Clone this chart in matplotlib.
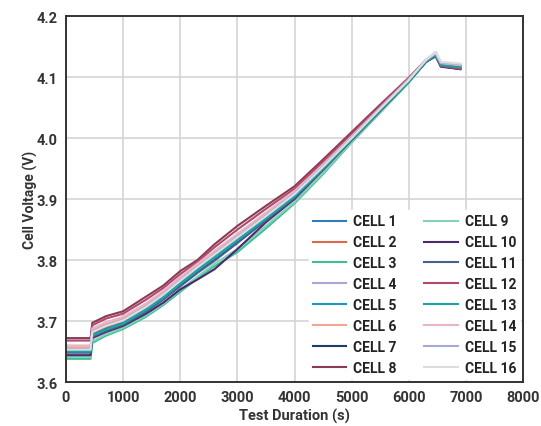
import matplotlib.pyplot as plt

# test time (s)
t = [0, 430, 460, 700, 1000, 1400, 1700, 2000, 2300, 2600, 3000,
     3500, 4000, 4500, 5000, 5500, 6000, 6300, 6470, 6560, 6900]

# cell voltages (V)
cell1 = [3.652, 3.652, 3.678, 3.688, 3.698, 3.720, 3.740, 3.763, 3.785, 3.806, 3.834, 3.870, 3.906, 3.952, 3.999, 4.047, 4.094, 4.126, 4.137, 4.121, 4.117]
cell2 = [3.652, 3.652, 3.679, 3.689, 3.699, 3.721, 3.741, 3.764, 3.786, 3.807, 3.835, 3.871, 3.907, 3.952, 4.000, 4.048, 4.095, 4.127, 4.138, 4.122, 4.118]
cell3 = [3.638, 3.638, 3.664, 3.676, 3.687, 3.707, 3.726, 3.748, 3.770, 3.790, 3.813, 3.852, 3.893, 3.941, 3.993, 4.042, 4.091, 4.125, 4.135, 4.119, 4.115]
cell4 = [3.655, 3.655, 3.684, 3.694, 3.703, 3.725, 3.745, 3.768, 3.790, 3.811, 3.839, 3.874, 3.910, 3.955, 4.001, 4.049, 4.096, 4.128, 4.140, 4.123, 4.120]
cell5 = [3.651, 3.651, 3.677, 3.687, 3.697, 3.719, 3.739, 3.762, 3.784, 3.805, 3.833, 3.869, 3.905, 3.951, 3.998, 4.046, 4.094, 4.126, 4.137, 4.121, 4.117]
cell6 = [3.657, 3.657, 3.685, 3.695, 3.704, 3.726, 3.746, 3.769, 3.791, 3.812, 3.840, 3.875, 3.910, 3.955, 4.001, 4.049, 4.096, 4.127, 4.138, 4.122, 4.119]
cell7 = [3.650, 3.650, 3.675, 3.686, 3.695, 3.716, 3.736, 3.758, 3.780, 3.800, 3.829, 3.866, 3.903, 3.950, 3.998, 4.046, 4.093, 4.125, 4.135, 4.118, 4.114]
cell8 = [3.672, 3.672, 3.697, 3.708, 3.716, 3.740, 3.758, 3.782, 3.800, 3.826, 3.856, 3.889, 3.921, 3.965, 4.010, 4.055, 4.099, 4.128, 4.136, 4.118, 4.113]
cell9 = [3.641, 3.641, 3.667, 3.678, 3.689, 3.709, 3.728, 3.751, 3.773, 3.794, 3.818, 3.856, 3.895, 3.943, 3.994, 4.043, 4.092, 4.125, 4.135, 4.119, 4.115]
cell10 = [3.644, 3.644, 3.672, 3.682, 3.692, 3.712, 3.730, 3.752, 3.768, 3.785, 3.818, 3.862, 3.900, 3.948, 3.997, 4.045, 4.093, 4.125, 4.134, 4.117, 4.113]
cell11 = [3.648, 3.648, 3.674, 3.684, 3.694, 3.715, 3.735, 3.757, 3.779, 3.799, 3.828, 3.865, 3.902, 3.949, 3.997, 4.045, 4.093, 4.125, 4.135, 4.118, 4.114]
cell12 = [3.668, 3.668, 3.693, 3.704, 3.712, 3.735, 3.754, 3.777, 3.797, 3.821, 3.850, 3.884, 3.917, 3.961, 4.007, 4.053, 4.098, 4.128, 4.137, 4.119, 4.114]
cell13 = [3.650, 3.650, 3.676, 3.686, 3.696, 3.718, 3.738, 3.761, 3.783, 3.804, 3.832, 3.868, 3.904, 3.950, 3.998, 4.046, 4.093, 4.126, 4.136, 4.120, 4.116]
cell14 = [3.660, 3.660, 3.688, 3.698, 3.707, 3.729, 3.749, 3.772, 3.794, 3.815, 3.843, 3.878, 3.913, 3.957, 4.003, 4.050, 4.097, 4.128, 4.139, 4.123, 4.120]
cell15 = [3.654, 3.654, 3.683, 3.693, 3.702, 3.724, 3.744, 3.767, 3.789, 3.810, 3.838, 3.873, 3.909, 3.954, 4.001, 4.049, 4.096, 4.128, 4.141, 4.124, 4.121]
cell16 = [3.653, 3.653, 3.682, 3.692, 3.701, 3.723, 3.743, 3.766, 3.788, 3.809, 3.837, 3.872, 3.908, 3.953, 4.000, 4.048, 4.095, 4.128, 4.141, 4.125, 4.122]

cells = [cell1, cell2, cell3, cell4, cell5, cell6, cell7, cell8,
         cell9, cell10, cell11, cell12, cell13, cell14, cell15, cell16]
labels = ["CELL %d" % (i + 1) for i in range(16)]
colors = ["#2f7dbf", "#e0674a", "#3dbf95", "#b3a2d6", "#1d93c8", "#f2a790",
          "#1c3d6b", "#8a3a52", "#85d1b5", "#4a2a6e", "#4a5f8c", "#b04a6a",
          "#1aa5a5", "#e9b4cb", "#a3aad9", "#dddddd"]

plt.rcParams['font.family'] = ['Roboto', 'DejaVu Sans']

fig = plt.figure(figsize=(5.41, 4.27), dpi=100)
ax = fig.add_axes([0.122, 0.103, 0.845, 0.857])

for v, lab, c in zip(cells, labels, colors):
    ax.plot(t, v, color=c, lw=1.5, label=lab)

ax.set_xlim(0, 8000)
ax.set_ylim(3.6, 4.2)
ax.set_xticks(range(0, 8001, 1000))
ax.set_yticks([3.6, 3.7, 3.8, 3.9, 4.0, 4.1, 4.2])
ax.set_yticklabels(["3.6", "3.7", "3.8", "3.9", "4.0", "4.1", "4.2"])
ax.grid(True, color="#d4d4d4", lw=1.2)
ax.set_axisbelow(True)
ax.tick_params(length=0, labelsize=10.5, colors="#333333", pad=6)
for lbl in ax.get_xticklabels() + ax.get_yticklabels():
    lbl.set_fontweight("bold")
for s in ax.spines.values():
    s.set_color("#333333")
    s.set_linewidth(1.4)

ax.set_xlabel("Test Duration (s)", fontsize=10.5, fontweight="bold", color="#333333", labelpad=2.5)
ax.set_ylabel("Cell Voltage (V)", fontsize=10, fontweight="bold", color="#333333", labelpad=-1)

leg = ax.legend(ncol=2, loc="lower right", fontsize=10, frameon=True,
                handlelength=2.4, handletextpad=0.5, labelspacing=0.5,
                columnspacing=2.0, borderaxespad=0.2, borderpad=0.3,
                fancybox=False)
leg.get_frame().set_edgecolor("white")
leg.get_frame().set_alpha(1)
for txt in leg.get_texts():
    txt.set_fontweight("bold")
    txt.set_color("#222222")

fig.savefig("out.png", dpi=100)
